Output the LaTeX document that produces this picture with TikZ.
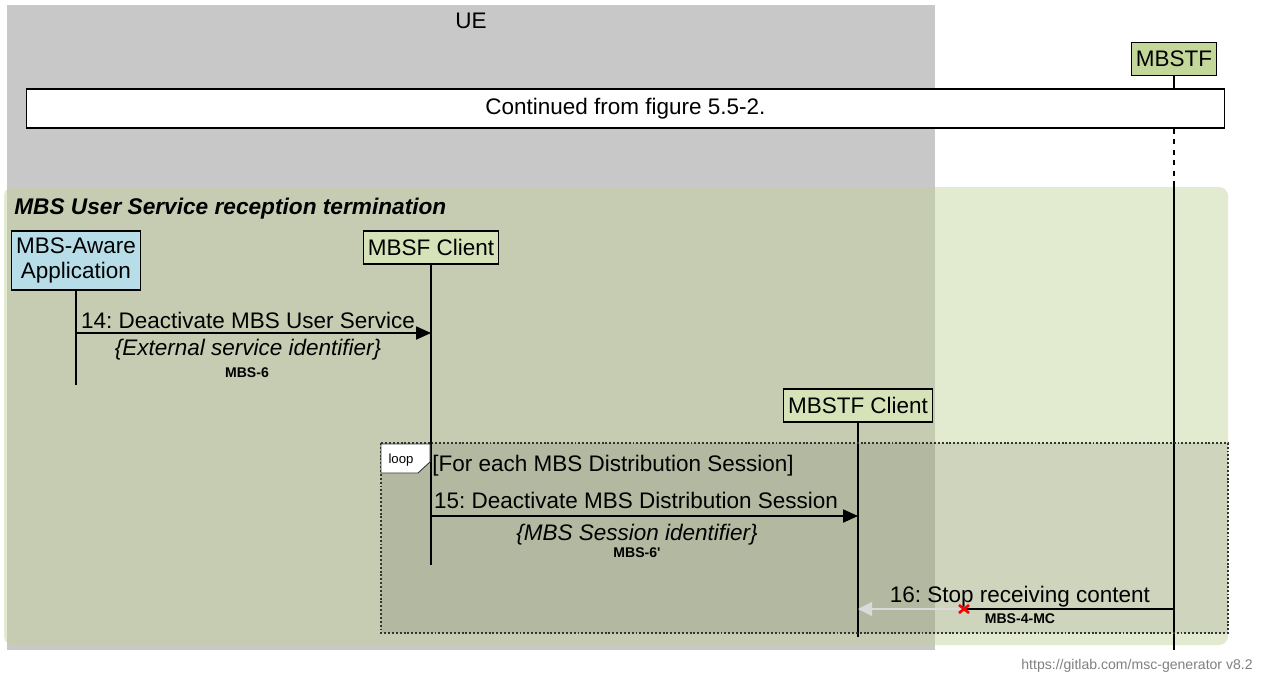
\documentclass[tikz,border=0pt]{standalone}
\usepackage{fontspec}
\setmainfont{Liberation Sans}
\usetikzlibrary{arrows.meta, positioning}
\definecolor{uegray}{RGB}{200,200,200}
\definecolor{regiongreen}{RGB}{194,210,153}
\definecolor{entgreen}{RGB}{196,215,155}
\definecolor{entgreenlight}{RGB}{214,227,184}
\definecolor{entblue}{RGB}{183,221,232}
\definecolor{lostgray}{RGB}{218,218,218}
\definecolor{footgray}{RGB}{128,128,128}
\tikzstyle{entity}=[draw, line width=0.6pt, rectangle, inner xsep=2.6pt, inner ysep=0pt, minimum height=0.66cm, align=center, font=\fontsize{12.8}{14.7}\selectfont]
\tikzstyle{lifeline}=[line width=0.6pt]
\tikzstyle{msg}=[line width=0.7pt, -{Triangle[length=8.5pt, width=7.5pt]}]
\tikzstyle{lostmsg}=[line width=0.7pt, draw=lostgray, -{Triangle[length=8pt, width=8pt, fill=lostgray]}]
\tikzstyle{msgtext}=[inner sep=0pt, font=\fontsize{12.8}{14.7}\selectfont]
\tikzstyle{msgsub}=[inner sep=0pt, font=\fontsize{12.8}{14.7}\selectfont\itshape]
\tikzstyle{iface}=[inner sep=0pt, font=\fontsize{8}{9}\selectfont\bfseries]
\tikzstyle{loopframe}=[draw=black!80, line width=1.2pt, dash pattern=on 1.1pt off 1.1pt]
\frenchspacing

\begin{document}
\begin{tikzpicture}[x=0.02cm, y=-0.02cm]
\useasboundingbox (0,0) rectangle (1261,674);

\fill[uegray] (7,5) rectangle (935,650);
\node[msgtext, anchor=base] (ue) at (471,28) {UE};

\node[entity, fill=entgreen] (mbstf) at (1174,59) {MBSTF};
\node[draw, line width=0.6pt, fill=white, inner sep=0pt, minimum width=23.98cm, minimum height=0.78cm, font=\fontsize{12.8}{14.7}\selectfont] (cont) at (625.5,108.5) {Continued from figure 5.5-2.};
\draw[lifeline] (mbstf.south) -- (mbstf.south |- cont.north);
\coordinate (regtop) at (1174,187);
\coordinate (mbstfend) at (1174,650);
\draw[lifeline, dashed] (mbstf.south |- cont.south) -- (regtop);

\fill[regiongreen, fill opacity=0.47, rounded corners=5] (4,187) rectangle (1228,645);
\node[anchor=base west, inner sep=0pt, font=\fontsize{12.9}{14.7}\selectfont\bfseries\itshape] (title) at (14,214) {MBS User Service reception termination};

\fill[black, fill opacity=0.09] (381,443) rectangle (1228,633);

\node[entity, fill=entblue, minimum height=1.18cm] (app) at (76,260.5) {MBS-Aware\\Application};
\node[entity, fill=entgreenlight] (mbsf) at (431,247.5) {MBSF Client};
\node[entity, fill=entgreenlight] (mbstfc) at (858,405.5) {MBSTF Client};
\coordinate (append) at (76,385);
\coordinate (mbsfend) at (431,565);
\coordinate (mbstfcend) at (858,637);
\draw[lifeline] (app.south) -- (append);
\draw[lifeline] (mbsf.south) -- (mbsfend);
\draw[lifeline] (mbstfc.south) -- (mbstfcend);
\draw[lifeline] (regtop) -- (mbstfend);

\draw[msg] (app |- 0,333) -- (mbsf |- 0,333);
\node[msgtext, anchor=base] (l14) at (248,328) {14: Deactivate MBS User Service};
\node[msgsub, anchor=base] (l14p) at (248,355) {\{External service identifier\}};
\node[iface, anchor=base] (l14i) at (247,377) {MBS-6};

\draw[loopframe] (381,443) rectangle (1228,633);
\draw[fill=white, line width=0.5pt, draw=black!80] (381,444) -- (430,444) -- (430,462) -- (418,473) -- (381,473) -- cycle;
\node[inner sep=0pt, anchor=base, font=\fontsize{7.5}{8}\selectfont] (looptag) at (401,463) {loop};
\node[msgtext, anchor=base west] (loopcond) at (432,471) {[For each MBS Distribution Session]};

\draw[msg] (mbsf |- 0,516) -- (mbstfc |- 0,516);
\node[msgtext, anchor=base] (l15) at (636,508) {15: Deactivate MBS Distribution Session};
\node[msgsub, anchor=base] (l15p) at (637,540) {\{MBS Session identifier\}};
\node[iface, anchor=base] (l15i) at (637,557) {MBS-6\textquotesingle};

\coordinate (lostx) at (964,609);
\draw[lostmsg] (lostx) -- (mbstfc |- 0,609);
\draw[line width=0.7pt] (mbstf |- 0,609) -- (lostx);
\draw[red, line width=1.5pt] (lostx) ++(-5,-4) -- ++(10,8);
\draw[red, line width=1.5pt] (lostx) ++(-5,4) -- ++(10,-8);
\node[msgtext, anchor=base] (l16) at (1020,602) {16: Stop receiving content};
\node[iface, anchor=base] (l16i) at (1020,623) {MBS-4-MC};

\node[anchor=base east, inner sep=0pt, text=footgray, font=\fontsize{8}{9}\selectfont] (footer) at (1253,669) {https://gitlab.com/msc-generator v8.2};
\end{tikzpicture}
\end{document}
